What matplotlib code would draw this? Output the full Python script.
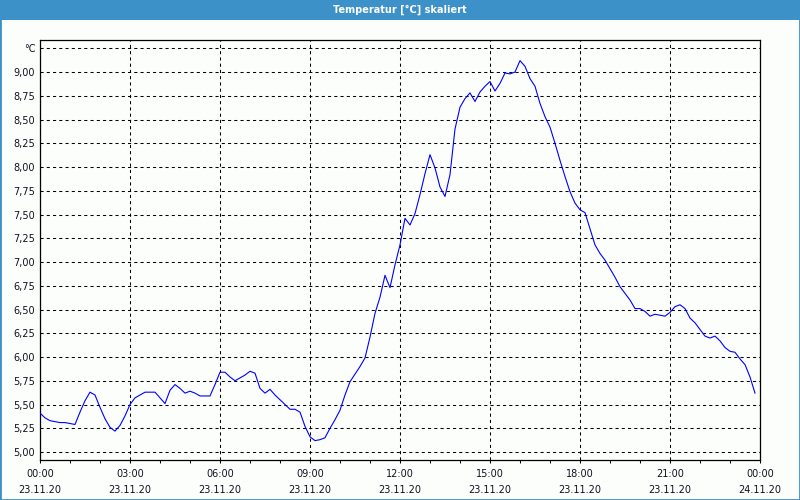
import matplotlib
matplotlib.use("Agg")
import matplotlib.pyplot as plt
import matplotlib.dates as mdates
from matplotlib.patches import Rectangle
import pandas as pd

# --- data -------------------------------------------------------------
start_time = "2020-11-23 00:00"
step = "10min"
temperature = [
    5.41, 5.36, 5.33, 5.32, 5.31, 5.31, 5.30, 5.29, 5.42, 5.54,
    5.63, 5.60, 5.47, 5.35, 5.26, 5.22, 5.28, 5.38, 5.50, 5.57,
    5.60, 5.63, 5.63, 5.63, 5.57, 5.51, 5.65, 5.71, 5.67, 5.62,
    5.64, 5.62, 5.59, 5.59, 5.59, 5.71, 5.84, 5.84, 5.79, 5.75,
    5.78, 5.81, 5.85, 5.83, 5.67, 5.62, 5.66, 5.60, 5.55, 5.50,
    5.45, 5.45, 5.42, 5.27, 5.16, 5.12, 5.13, 5.15, 5.25, 5.34,
    5.44, 5.60, 5.74, 5.82, 5.90, 5.99, 6.21, 6.46, 6.63, 6.86,
    6.73, 6.97, 7.18, 7.46, 7.39, 7.51, 7.71, 7.93, 8.13, 7.99,
    7.79, 7.69, 7.92, 8.40, 8.63, 8.72, 8.78, 8.69, 8.79, 8.85,
    8.90, 8.80, 8.88, 8.99, 8.98, 9.00, 9.12, 9.06, 8.93, 8.85,
    8.67, 8.53, 8.42, 8.25, 8.07, 7.90, 7.74, 7.62, 7.55, 7.52,
    7.35, 7.18, 7.09, 7.02, 6.93, 6.84, 6.74, 6.67, 6.60, 6.51,
    6.51, 6.48, 6.43, 6.45, 6.44, 6.43, 6.47, 6.53, 6.55, 6.51,
    6.41, 6.36, 6.29, 6.22, 6.20, 6.22, 6.17, 6.10, 6.06, 6.05,
    5.98, 5.92, 5.79, 5.62,
]
y_ticks = [5.00, 5.25, 5.50, 5.75, 6.00, 6.25, 6.50, 6.75, 7.00, 7.25,
           7.50, 7.75, 8.00, 8.25, 8.50, 8.75, 9.00, 9.25]
y_tick_labels = ["5,00", "5,25", "5,50", "5,75", "6,00", "6,25", "6,50",
                 "6,75", "7,00", "7,25", "7,50", "7,75", "8,00", "8,25",
                 "8,50", "8,75", "9,00", "°C"]
title = "Temperatur [°C] skaliert"

times = pd.date_range(start_time, periods=len(temperature), freq=step)

# --- figure -----------------------------------------------------------
bg = "#fcfefc"
fig = plt.figure(figsize=(8, 5), dpi=100, facecolor=bg)

# title bar
fig.patches.append(Rectangle((0, 0.96), 1, 0.04, transform=fig.transFigure,
                             facecolor="#3c91c8", edgecolor="none", zorder=0))
fig.text(0.5, 0.98, title, ha="center", va="center", color="white",
         fontsize=7, fontweight="bold")
# outer border
fig.patches.append(Rectangle((0, 0), 1, 1, transform=fig.transFigure,
                             facecolor="none", edgecolor="#3c91c8", lw=2.0,
                             zorder=5))

ax = fig.add_axes([0.05, 0.08, 0.90, 0.84], facecolor=bg)
ax.plot(times, temperature, color="#0000ff", lw=0.8, zorder=3)

ax.set_xlim(pd.Timestamp("2020-11-23 00:00"), pd.Timestamp("2020-11-24 00:00"))
ax.set_ylim(4.916, 9.337)

ax.xaxis.set_major_locator(mdates.HourLocator(byhour=range(0, 24, 3)))
ax.xaxis.set_minor_locator(mdates.HourLocator())
ax.xaxis.set_major_formatter(mdates.DateFormatter("%H:%M\n%d.%m.%y"))

ax.set_yticks(y_ticks)
ax.set_yticklabels(y_tick_labels)

ax.grid(True, which="major", color="black", lw=0.75, linestyle=(0, (3, 3)))
ax.tick_params(axis="y", length=0, pad=3.5, labelsize=7, labelcolor="#101020")
ax.tick_params(axis="x", which="both", length=2.5, width=0.75, color="black",
               direction="out", pad=4, labelsize=7, labelcolor="#101020")
for lbl in ax.get_xticklabels():
    lbl.set_linespacing(1.75)

for s in ax.spines.values():
    s.set_color("black")
    s.set_linewidth(0.9)

fig.savefig("out.png", dpi=100, facecolor=bg)
